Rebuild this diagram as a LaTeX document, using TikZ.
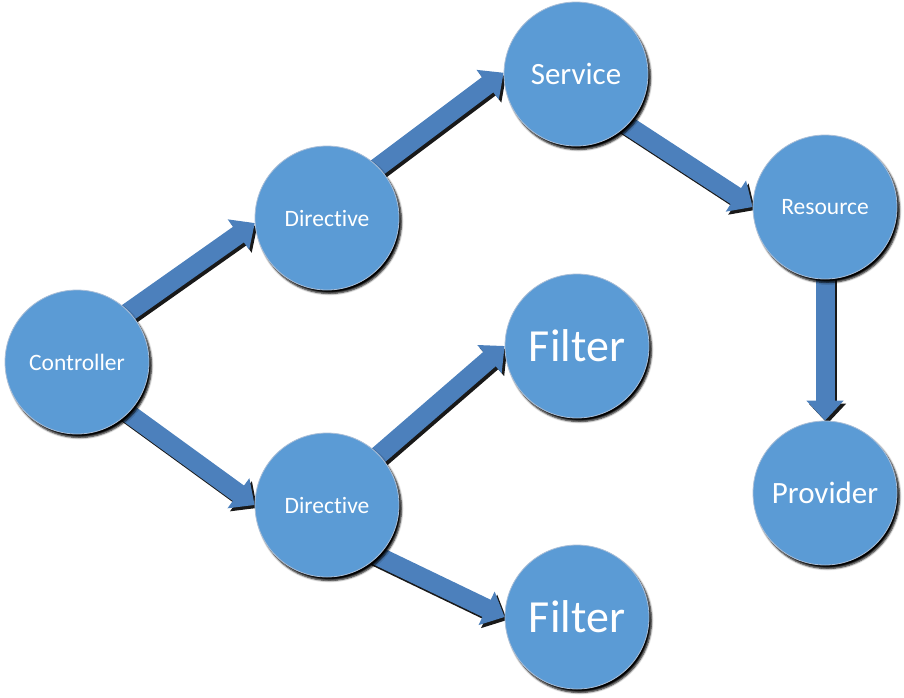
\documentclass[tikz,border=0pt]{standalone}
\usepackage{fontspec}
\setmainfont{Carlito}[RawFeature={-liga;-clig;-calt;-dlig}]
\usetikzlibrary{arrows.meta,shadows.blur,backgrounds}
\definecolor{circfill}{RGB}{91,155,213}
\definecolor{arrfill}{RGB}{76,128,188}
\definecolor{circline}{RGB}{170,190,215}
\tikzset{
  bubble/.style={circle, fill=circfill, draw=circline, line width=0.8pt,
    minimum size=144pt, inner sep=0pt, text=white,
    blur shadow={shadow xshift=2.5pt, shadow yshift=-3.5pt, shadow opacity=100,
      shadow blur radius=2pt, shadow blur steps=5}},
  smalltext/.style={font=\fontsize{23.5}{26}\selectfont},
  midtext/.style={font=\fontsize{31}{34}\selectfont},
  bigtext/.style={font=\fontsize{46}{50}\selectfont},
  flowarrow/.style={draw=arrfill, line width=19pt,
    -{Triangle[length=20pt,width=36pt]}, shorten <=-10pt},
  flowshadow/.style={draw=black!90, line width=19pt,
    -{Triangle[length=20pt,width=36pt]}, shorten <=-10pt,
    transform canvas={shift={(2.5pt,-3pt)}}},
}
\newcommand\flowlink[2]{\draw[flowshadow] #1 -- #2; \draw[flowarrow] #1 -- #2;}
\begin{document}
\begin{tikzpicture}[x=1pt,y=-1pt]
\useasboundingbox (0,0) rectangle (904,697);
\node[bubble, smalltext] (ctrl) at (77,362) {Controller};
\node[bubble, smalltext] (dir1) at (327,218) {Directive};
\node[bubble, smalltext] (dir2) at (327,505) {Directive};
\node[bubble, midtext] (service) at (576,74) {Service};
\node[bubble, bigtext] (filter1) at (577,346) {Filter};
\node[bubble, bigtext] (filter2) at (577,617) {Filter};
\node[bubble, smalltext] (resource) at (825,207) {Resource};
\node[bubble, midtext] (provider) at (825,493) {Provider};
\begin{pgfonlayer}{background}
\flowlink{(ctrl.44)}{(dir1.184)}
\flowlink{(dir1.45)}{(service.179)}
\flowlink{(service.315)}{(resource.180)}
\flowlink{(ctrl.315)}{(dir2.180)}
\flowlink{(dir2.44)}{(filter1.180)}
\flowlink{(dir2.315)}{(filter2.180)}
\flowlink{(resource.270)}{(provider.90)}
\end{pgfonlayer}
\end{tikzpicture}
\end{document}
